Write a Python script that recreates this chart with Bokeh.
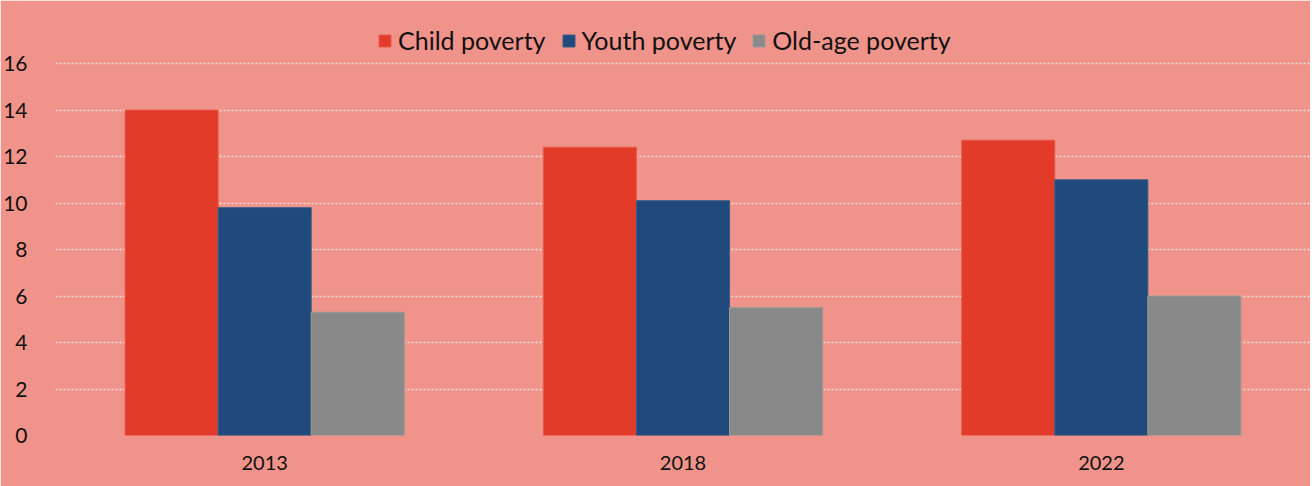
from bokeh.plotting import figure
from bokeh.models import ColumnDataSource, FactorRange, Legend, LegendItem, FixedTicker
from bokeh.transform import dodge
from bokeh.embed import file_html
from bokeh.resources import INLINE

years = ["2013", "2018", "2022"]
child = [14.0, 12.4, 12.7]
youth = [9.8, 10.1, 11.0]
oldage = [5.3, 5.5, 6.0]
y_ticks = [0, 2, 4, 6, 8, 10, 12, 14, 16]
series_names = ["Child poverty", "Youth poverty", "Old-age poverty"]
colors = ["#E33B2A", "#204A7C", "#898989"]
outline = ["#EB5A4C", "#3A5E8A", "#9A9A9A"]

src = ColumnDataSource(dict(year=years, child=child, youth=youth, oldage=oldage))

BG = "#F0938A"
FONT = "Lato"

# frame spans the top margin too, so the legend (drawn inside it) is not clipped;
# 16 stays at the same pixel height as in the reference
y_top = 16 + 55 / 23.25

p = figure(x_range=FactorRange(*years), y_range=(0, y_top),
           width=1310, height=486, output_backend="svg", toolbar_location=None,
           min_border_left=54, min_border_right=0, min_border_top=8, min_border_bottom=51)
p.background_fill_color = BG
p.border_fill_color = BG
p.outline_line_color = BG
p.outline_line_width = 2

bw = 0.2225
keys = ["child", "youth", "oldage"]
renderers = []
for i, k in enumerate(keys):
    r = p.vbar(x=dodge("year", (i - 1) * bw, range=p.x_range), top=k, width=bw, bottom=0,
               source=src, fill_color=colors[i], line_color=outline[i], line_width=1)
    renderers.append(r)

p.x_range.range_padding = 0.0
p.x_range.group_padding = 0

p.yaxis.ticker = FixedTicker(ticks=y_ticks)
p.ygrid.ticker = FixedTicker(ticks=y_ticks)
p.xgrid.grid_line_color = None
p.ygrid.grid_line_color = "#E6E3E3"
p.ygrid.grid_line_dash = "2 2"
p.ygrid.grid_line_width = 1.5

for ax in (p.xaxis, p.yaxis):
    ax.axis_line_color = None
    ax.major_tick_line_color = None
    ax.minor_tick_line_color = None
    ax.major_label_text_font = FONT
    ax.major_label_text_color = "#111111"
p.xaxis.major_label_text_font_size = "20px"
p.yaxis.major_label_text_font_size = "21px"
p.yaxis.major_label_standoff = 22
p.xaxis.major_label_standoff = 14

legend = Legend(items=[LegendItem(label=n, renderers=[r]) for n, r in zip(series_names, renderers)],
                orientation="horizontal", location=(322, 380))
legend.background_fill_alpha = 0
legend.border_line_color = None
legend.padding = 0
legend.margin = 0
legend.glyph_width = 15
legend.glyph_height = 15
legend.label_standoff = 6
legend.spacing = 15
legend.label_text_font = FONT
legend.label_text_font_size = "25px"
legend.label_text_color = "#111111"
p.add_layout(legend, "center")

open("out.html", "w").write(file_html(p, INLINE))
